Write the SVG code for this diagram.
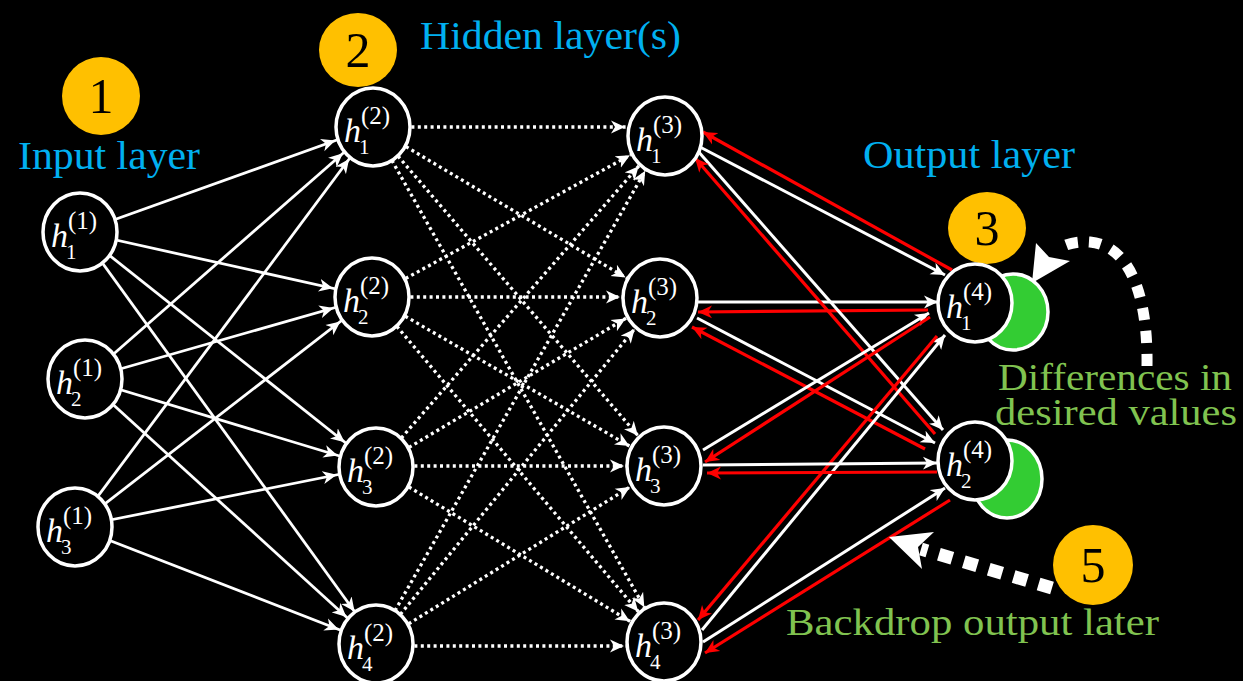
<svg xmlns="http://www.w3.org/2000/svg" width="1243" height="681" viewBox="0 0 1243 681">
<style>
.node ellipse{fill:#000;stroke:#fff;stroke-width:3.5}
.node ellipse.green{fill:#33CC33;stroke:#fff;stroke-width:3.5}
.badge{fill:#FFC000}
.num{font-family:"Liberation Serif",serif;font-size:50px;fill:#000;text-anchor:middle}
.h{font-family:"Liberation Serif",serif;font-style:italic;font-size:34px;fill:#fff}
.sup{font-family:"Liberation Serif",serif;font-size:25px;fill:#fff}
.sub{font-family:"Liberation Serif",serif;font-size:21px;fill:#fff}
.blue{font-family:"Liberation Serif",serif;font-size:40px;fill:#00B0F0}
.grn{font-family:"Liberation Serif",serif;font-size:38px;fill:#80C350}
.solid{stroke:#fff;stroke-width:2.8;fill:none;marker-end:url(#ah)}
.dot{stroke:#fff;stroke-width:3.3;fill:none;stroke-dasharray:3 3.4;marker-end:url(#ah)}
.w{stroke:#fff;stroke-width:3;fill:none;marker-end:url(#ahT)}
.r{stroke:#FF0000;stroke-width:3.2;fill:none;marker-end:url(#ahR)}
.bigdash{stroke:#fff;fill:none}
</style>
<defs>
<marker id="ah" markerUnits="userSpaceOnUse" markerWidth="60" markerHeight="14" refX="54" refY="7" orient="auto"><path d="M0,0.5 L14,7 L0,13.5 L4,7 z" fill="#fff"/></marker>
<marker id="ahT" markerUnits="userSpaceOnUse" markerWidth="16" markerHeight="14" refX="14" refY="7" orient="auto"><path d="M0,0.5 L14,7 L0,13.5 L4,7 z" fill="#fff"/></marker>
<marker id="ahR" markerUnits="userSpaceOnUse" markerWidth="16" markerHeight="14" refX="14" refY="7" orient="auto"><path d="M0,0.5 L14,7 L0,13.5 L4,7 z" fill="#FF0000"/></marker>
</defs>
<rect width="1243" height="681" fill="#000"/>

<g id="connectors">
<!-- layer 1 to layer 2 -->
<line class="solid" x1="80" y1="232" x2="373" y2="127"/>
<line class="solid" x1="80" y1="232" x2="372" y2="297"/>
<line class="solid" x1="80" y1="232" x2="376" y2="467"/>
<line class="solid" x1="80" y1="232" x2="378" y2="644"/>
<line class="solid" x1="85" y1="379" x2="373" y2="127"/>
<line class="solid" x1="85" y1="379" x2="372" y2="297"/>
<line class="solid" x1="85" y1="379" x2="376" y2="467"/>
<line class="solid" x1="85" y1="379" x2="376" y2="644"/>
<line class="solid" x1="75" y1="527" x2="373" y2="127"/>
<line class="solid" x1="75" y1="527" x2="372" y2="297"/>
<line class="solid" x1="75" y1="527" x2="376" y2="467"/>
<line class="solid" x1="75" y1="527" x2="376" y2="644"/>
<!-- layer 2 to layer 3 (dotted) -->
<line class="dot" x1="373" y1="127" x2="665" y2="127"/>
<line class="dot" x1="373" y1="127" x2="660" y2="298"/>
<line class="dot" x1="373" y1="127" x2="664" y2="466"/>
<line class="dot" x1="373" y1="127" x2="664" y2="642"/>
<line class="dot" x1="372" y1="297" x2="665" y2="136"/>
<line class="dot" x1="372" y1="297" x2="660" y2="297"/>
<line class="dot" x1="372" y1="297" x2="664" y2="466"/>
<line class="dot" x1="372" y1="297" x2="664" y2="642"/>
<line class="dot" x1="376" y1="467" x2="665" y2="136"/>
<line class="dot" x1="376" y1="467" x2="660" y2="298"/>
<line class="dot" x1="376" y1="466" x2="664" y2="466"/>
<line class="dot" x1="376" y1="467" x2="664" y2="642"/>
<line class="dot" x1="376" y1="644" x2="665" y2="136"/>
<line class="dot" x1="376" y1="644" x2="660" y2="298"/>
<line class="dot" x1="376" y1="644" x2="664" y2="466"/>
<line class="dot" x1="376" y1="646" x2="664" y2="646"/>
<!-- layer 3 to layer 4 (white) and back-propagation (red) -->
<path class="w" d="M700,147 L945,275"/>
<path class="r" d="M952,270 L703,132"/>
<path class="w" d="M698,302 L938,302"/>
<path class="r" d="M928,310 L698,312"/>
<path class="w" d="M697,150 L943,430"/>
<path class="r" d="M935,434 L695,158"/>
<path class="w" d="M697,318 L935,443"/>
<path class="r" d="M925,449 L692,327"/>
<path class="w" d="M703,450 L929,313"/>
<path class="r" d="M930,317 L705,462"/>
<path class="w" d="M702,630 L945,335"/>
<path class="r" d="M937,336 L698,620"/>
<path class="w" d="M703,465 L937,463"/>
<path class="r" d="M937,472 L707,473"/>
<path class="w" d="M703,642 L945,488"/>
<path class="r" d="M950,500 L705,653"/>
</g>

<g id="feedback-arrows">
<path class="bigdash" d="M1147,366 C1148,300 1132,246 1090,242 C1076,241 1066,244 1058,249" stroke-width="11" stroke-dasharray="12 11"/>
<polygon points="1032,283 1036,243 1049,257 1070,261" fill="#fff"/>
<line class="bigdash" x1="1052" y1="588" x2="921" y2="549" stroke-width="13" stroke-dasharray="14 12"/>
<polygon points="889,537 934,532 918,547 922,569" fill="#fff"/>
</g>

<g id="labels">
<text class="blue" x="18" y="169" textLength="182" lengthAdjust="spacingAndGlyphs">Input layer</text>
<text class="blue" x="420" y="49" textLength="261" lengthAdjust="spacingAndGlyphs">Hidden layer(s)</text>
<text class="blue" x="863" y="168" textLength="212" lengthAdjust="spacingAndGlyphs">Output layer</text>
<text class="grn" x="998" y="390" textLength="234" lengthAdjust="spacingAndGlyphs">Differences in</text>
<text class="grn" x="995" y="425" textLength="242" lengthAdjust="spacingAndGlyphs">desired values</text>
<text class="grn" x="786" y="635" textLength="373" lengthAdjust="spacingAndGlyphs">Backdrop output later</text>
</g>

<g id="badge1"><ellipse class="badge" cx="101" cy="96" rx="39" ry="39"/><text class="num" x="101" y="113">1</text></g>
<g id="badge2"><ellipse class="badge" cx="358" cy="50" rx="39" ry="37"/><text class="num" x="358" y="67">2</text></g>
<g id="badge3"><ellipse class="badge" cx="987" cy="228" rx="39" ry="36"/><text class="num" x="987" y="245">3</text></g>
<g id="badge5"><ellipse class="badge" cx="1093" cy="565" rx="40" ry="40"/><text class="num" x="1093" y="582">5</text></g>

<g id="n11" class="node"><ellipse cx="80" cy="232" rx="37" ry="39"/><text class="h" x="51" y="247">h</text><text class="sup" x="68" y="229">(1)</text><text class="sub" x="66" y="259">1</text></g>
<g id="n12" class="node"><ellipse cx="85" cy="379" rx="37" ry="39"/><text class="h" x="56" y="394">h</text><text class="sup" x="73" y="376">(1)</text><text class="sub" x="71" y="406">2</text></g>
<g id="n13" class="node"><ellipse cx="75" cy="527" rx="37" ry="39"/><text class="h" x="46" y="542">h</text><text class="sup" x="63" y="524">(1)</text><text class="sub" x="61" y="554">3</text></g>

<g id="n21" class="node"><ellipse cx="373" cy="127" rx="37" ry="39"/><text class="h" x="344" y="142">h</text><text class="sup" x="361" y="124">(2)</text><text class="sub" x="359" y="154">1</text></g>
<g id="n22" class="node"><ellipse cx="372" cy="297" rx="37" ry="39"/><text class="h" x="343" y="312">h</text><text class="sup" x="360" y="294">(2)</text><text class="sub" x="358" y="324">2</text></g>
<g id="n23" class="node"><ellipse cx="376" cy="467" rx="37" ry="39"/><text class="h" x="347" y="482">h</text><text class="sup" x="364" y="464">(2)</text><text class="sub" x="362" y="494">3</text></g>
<g id="n24" class="node"><ellipse cx="376" cy="644" rx="37" ry="39"/><text class="h" x="347" y="659">h</text><text class="sup" x="364" y="641">(2)</text><text class="sub" x="362" y="671">4</text></g>

<g id="n31" class="node"><ellipse cx="665" cy="136" rx="37" ry="39"/><text class="h" x="636" y="151">h</text><text class="sup" x="653" y="133">(3)</text><text class="sub" x="651" y="163">1</text></g>
<g id="n32" class="node"><ellipse cx="660" cy="298" rx="37" ry="39"/><text class="h" x="631" y="313">h</text><text class="sup" x="648" y="295">(3)</text><text class="sub" x="646" y="325">2</text></g>
<g id="n33" class="node"><ellipse cx="664" cy="466" rx="37" ry="39"/><text class="h" x="635" y="481">h</text><text class="sup" x="652" y="463">(3)</text><text class="sub" x="650" y="493">3</text></g>
<g id="n34" class="node"><ellipse cx="664" cy="642" rx="37" ry="39"/><text class="h" x="635" y="657">h</text><text class="sup" x="652" y="639">(3)</text><text class="sub" x="650" y="669">4</text></g>

<g id="n41" class="node"><ellipse class="green" cx="1013" cy="312" rx="35" ry="38"/><ellipse cx="975" cy="303" rx="37" ry="39"/><text class="h" x="946" y="318">h</text><text class="sup" x="963" y="300">(4)</text><text class="sub" x="961" y="330">1</text></g>
<g id="n42" class="node"><ellipse class="green" cx="1007" cy="479" rx="35" ry="39"/><ellipse cx="975" cy="461" rx="37" ry="39"/><text class="h" x="946" y="476">h</text><text class="sup" x="963" y="458">(4)</text><text class="sub" x="961" y="488">2</text></g>
</svg>
